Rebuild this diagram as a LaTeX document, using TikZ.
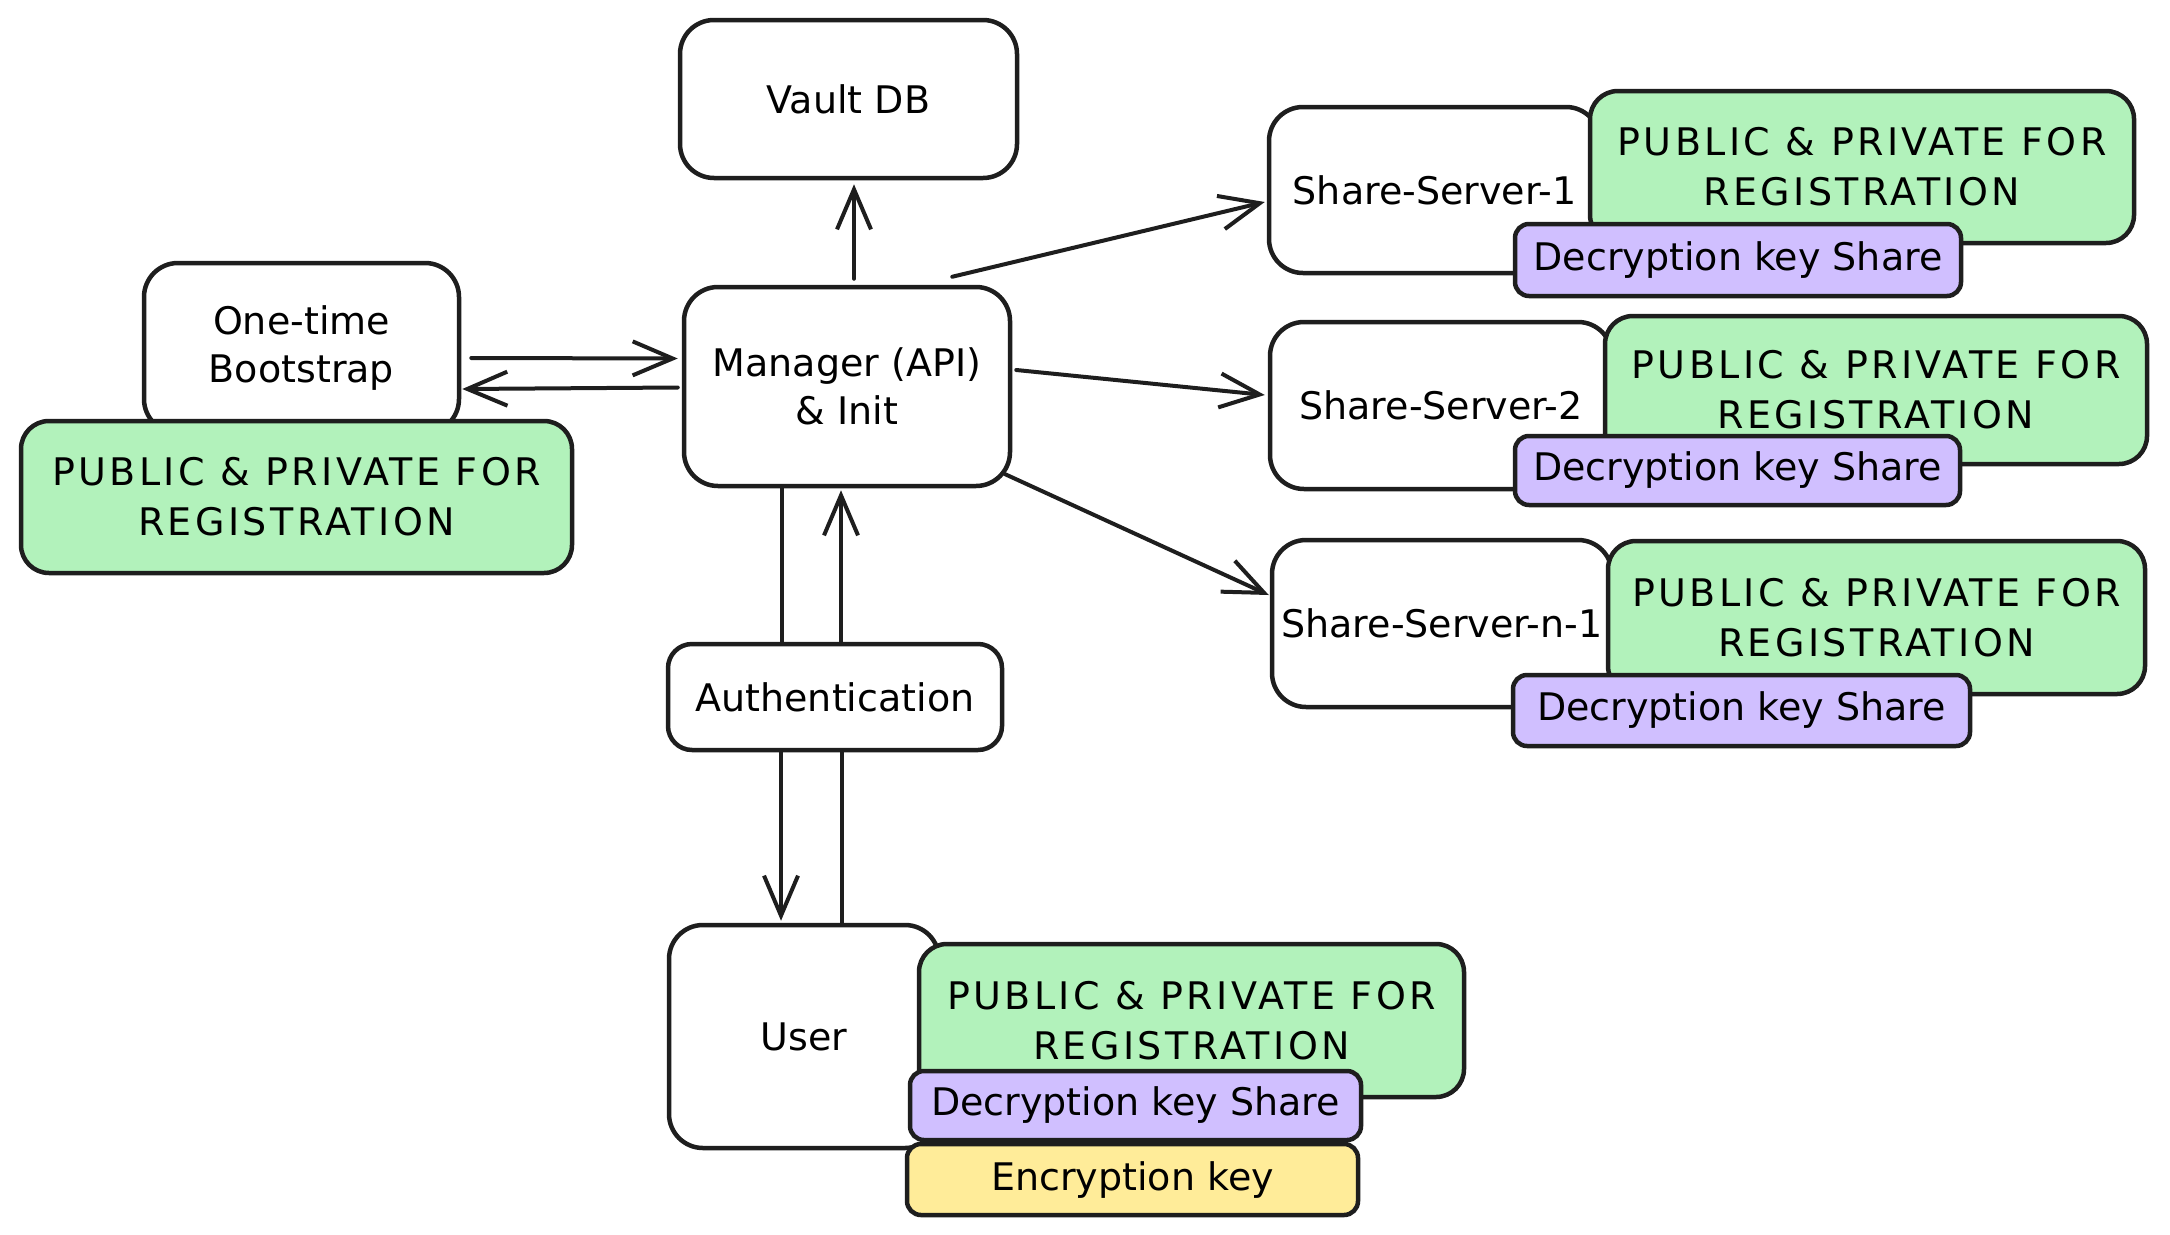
\documentclass[tikz,border=0pt]{standalone}
\usepackage{fontspec}
\setmainfont{DejaVu Sans}
\usetikzlibrary{arrows.meta,calc}
\definecolor{ink}{HTML}{1E1E1E}
\definecolor{grn}{HTML}{B2F2BB}
\definecolor{prp}{HTML}{D0BFFF}
\definecolor{ylw}{HTML}{FFEC99}
\begin{document}
\begin{tikzpicture}[x=1pt,y=-1pt,
  box/.style={draw=ink, line width=4.5pt, fill=white, rounded corners=34pt, align=center,
    font=\fontsize{38}{48}\selectfont, inner sep=0pt},
  taggreen/.style={draw=ink, line width=4.5pt, fill=grn, rounded corners=28pt, align=center,
    font=\fontsize{38}{50}\selectfont\addfontfeature{LetterSpace=9}, inner sep=0pt},
  tagpurple/.style={draw=ink, line width=4.5pt, fill=prp, rounded corners=14pt,
    font=\fontsize{38}{48}\selectfont, inner sep=0pt},
  tagyellow/.style={draw=ink, line width=4.5pt, fill=ylw, rounded corners=14pt,
    font=\fontsize{38}{48}\selectfont, inner sep=0pt},
  arr/.style={draw=ink, line width=4pt, line cap=round,
    -{Straight Barb[length=40pt,width=34pt,line width=4pt]}},
  ln/.style={draw=ink, line width=4pt, line cap=round}
]
\useasboundingbox (0,0) rectangle (2170,1234);

% Vault and manager
\node[box, minimum width=337pt, minimum height=158pt] (vault) at (848.5,99) {Vault DB};
\node[box, minimum width=326pt, minimum height=199pt] (mgr) at (847,386.5) {Manager (API)\\\& Init};

% Bootstrap
\node[box, minimum width=315pt, minimum height=170pt] (boot) at (301.5,348) {One-time\\Bootstrap};
\node[taggreen, minimum width=551pt, minimum height=152pt] (bootg) at (296.5,497) {PUBLIC \& PRIVATE FOR\\REGISTRATION};

% Authentication
\node[box, rounded corners=24pt, minimum width=334pt, minimum height=106pt] (auth) at (835,697) {Authentication};

% User
\node[box, minimum width=270pt, minimum height=223pt] (user) at (804,1036.5) {User};
\node[taggreen, minimum width=545pt, minimum height=153pt] (userg) at (1191.5,1020.5) {PUBLIC \& PRIVATE FOR\\REGISTRATION};
\node[tagpurple, minimum width=451pt, minimum height=69pt] (userp) at (1135.5,1105.5) {Decryption key Share};
\node[tagyellow, minimum width=451pt, minimum height=71pt] (usery) at (1132.5,1179.5) {Encryption key};

% Share servers
\node[box, minimum width=331pt, minimum height=166pt] (ss1) at (1434.5,190) {Share-Server-1};
\node[taggreen, minimum width=544pt, minimum height=152pt] (ss1g) at (1862,167) {PUBLIC \& PRIVATE FOR\\REGISTRATION};
\node[tagpurple, minimum width=446pt, minimum height=72pt] (ss1p) at (1738,260) {Decryption key Share};

\node[box, minimum width=342pt, minimum height=167pt] (ss2) at (1441,405.5) {Share-Server-2};
\node[taggreen, minimum width=542pt, minimum height=148pt] (ss2g) at (1876,390) {PUBLIC \& PRIVATE FOR\\REGISTRATION};
\node[tagpurple, minimum width=445pt, minimum height=69pt] (ss2p) at (1737.5,470.5) {Decryption key Share};

\node[box, minimum width=340pt, minimum height=167pt] (ss3) at (1442,623.5) {Share-Server-n-1};
\node[taggreen, minimum width=537pt, minimum height=153pt] (ss3g) at (1876.5,617.5) {PUBLIC \& PRIVATE FOR\\REGISTRATION};
\node[tagpurple, minimum width=457pt, minimum height=71pt] (ss3p) at (1741.5,710.5) {Decryption key Share};

% Connectors
\draw[arr] ($(mgr.north)+(7,-6)$) -- ($(vault.south)+(5.5,4)$);
\draw[arr] ($(boot.east)+(10,10)$) -- ($(mgr.west)+(-4,-28)$);
\draw[arr] ($(mgr.west)+(-4,1)$) -- ($(boot.east)+(1,41)$);
\draw[arr] ($(mgr.north east)+(-60,-8)$) -- ($(ss1.west)+(-2,12)$);
\draw[arr] ($(mgr.east)+(4,-16.5)$) -- ($(ss2.west)+(-3,-10.5)$);
\draw[arr] ($(mgr.south east)+(-7,-14)$) -- ($(ss3.west)+(-1,-28.5)$);
\draw[ln] ($(mgr.south)+(-65,0)$) -- ($(auth.north)+(-53,0)$);
\draw[arr] ($(auth.north)+(6,0)$) -- ($(mgr.south)+(-6,2)$);
\draw[arr] ($(auth.south)+(-54,0)$) -- ($(user.north)+(-23,-2)$);
\draw[ln] ($(user.north)+(38,0)$) -- ($(auth.south)+(7,0)$);
\end{tikzpicture}
\end{document}
